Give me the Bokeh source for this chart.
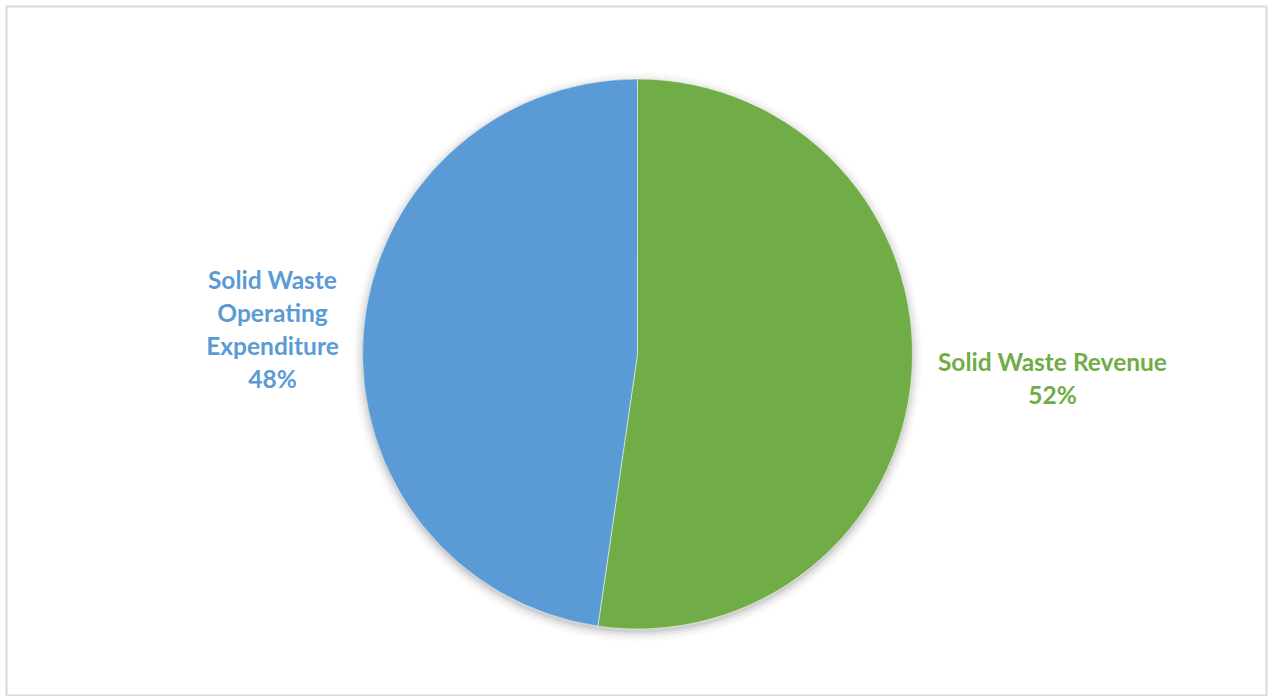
import math
from bokeh.plotting import figure
from bokeh.models import Range1d
from bokeh.core.properties import value
from bokeh.embed import file_html
from bokeh.resources import INLINE

# ---- data ----
categories = ["Solid Waste Revenue", "Solid Waste Operating Expenditure"]
values = [52.3, 47.7]
colors = ["#70AD47", "#5B9BD5"]
label_lines = [["Solid Waste Revenue"], ["Solid Waste", "Operating", "Expenditure"]]

W, H = 1268, 696
FW, FH = 1260, 690
p = figure(width=W, height=H, output_backend="svg", toolbar_location=None,
           x_range=Range1d(0, FW), y_range=Range1d(0, FH),
           min_border_left=6, min_border_top=6, min_border_right=W - FW - 6, min_border_bottom=0)
p.axis.visible = False
p.grid.visible = False
p.outline_line_color = "#d9d9d9"
p.outline_line_width = 2
p.background_fill_color = "white"
p.border_fill_color = "white"

cx, cy, r = 631, 342.5, 275

# soft shadow
for k, a in [(10, 0.012), (8, 0.018), (6, 0.025), (4, 0.035), (2, 0.045), (0.5, 0.06)]:
    p.circle(x=[cx], y=[cy - 3], radius=r + k, fill_color="black", fill_alpha=a, line_color=None)

total = sum(values)
start = math.pi / 2
for cat, v, c in zip(categories, values, colors):
    sweep = 2 * math.pi * v / total
    p.wedge(x=[cx], y=[cy], radius=r, start_angle=start - sweep, end_angle=start,
            fill_color=c, line_color="white", line_width=0.5)
    start -= sweep

# labels
label_pos = [(1046, 335), (266, 417)]
line_h = 33
for lines, v, c, (lx, ly) in zip(label_lines, values, colors, label_pos):
    all_lines = lines + [f"{round(100 * v / total)}%"]
    for i, t in enumerate(all_lines):
        p.text(x=[lx], y=[ly - i * line_h], text=[t], text_align="center", text_baseline="middle",
               text_color=c, text_font=value("Lato"), text_font_style="bold", text_font_size="24.5px")

open("out.html", "w").write(file_html(p, INLINE))
